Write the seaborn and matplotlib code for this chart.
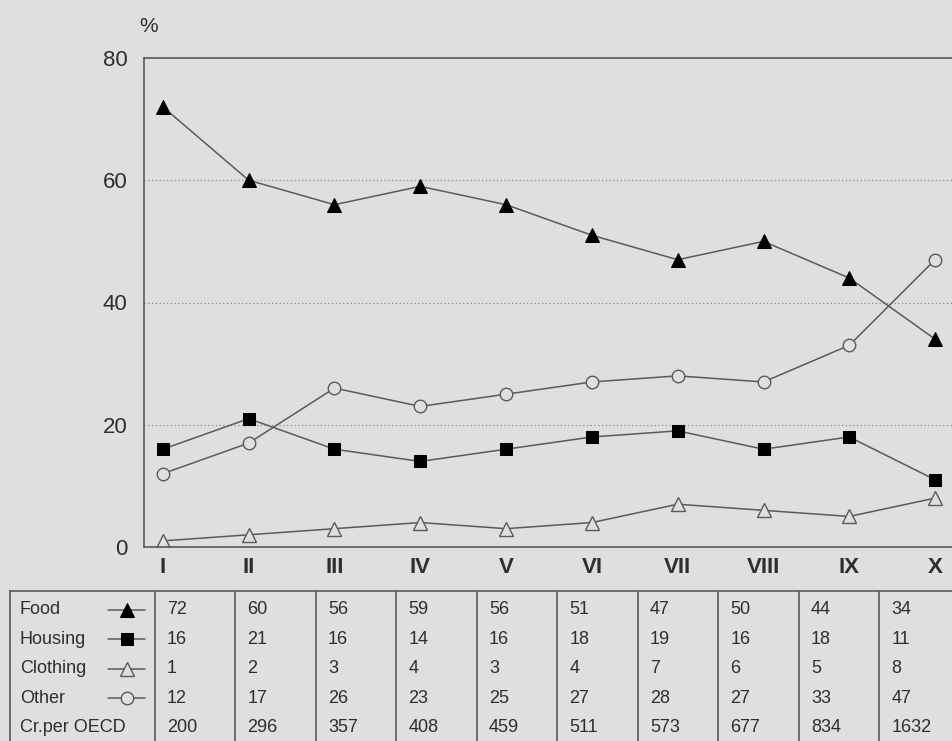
import numpy as np
import pandas as pd
import matplotlib
matplotlib.use("Agg")
import matplotlib.pyplot as plt
import seaborn as sns

groups = ["I", "II", "III", "IV", "V", "VI", "VII", "VIII", "IX", "X"]
food = [72, 60, 56, 59, 56, 51, 47, 50, 44, 34]
housing = [16, 21, 16, 14, 16, 18, 19, 16, 18, 11]
clothing = [1, 2, 3, 4, 3, 4, 7, 6, 5, 8]
other = [12, 17, 26, 23, 25, 27, 28, 27, 33, 47]
cr_per_oecd = [200, 296, 357, 408, 459, 511, 573, 677, 834, 1632]

series_names = ["Food", "Housing", "Clothing", "Other"]
series_values = [food, housing, clothing, other]
row_labels = series_names + ["Cr.per OECD"]

bg = "#dfdfdf"
ink = "#5a5a5a"
txt = "#2e2e2e"
marker_style = {
    "Food": dict(marker="^", markersize=10.5, markerfacecolor="black", markeredgecolor="black"),
    "Housing": dict(marker="s", markersize=8, markerfacecolor="black", markeredgecolor="black"),
    "Clothing": dict(marker="^", markersize=10.5, markerfacecolor=bg, markeredgecolor=ink, markeredgewidth=1.0),
    "Other": dict(marker="o", markersize=9, markerfacecolor=bg, markeredgecolor=ink, markeredgewidth=1.0),
}

df = pd.DataFrame({"group": groups, **dict(zip(series_names, series_values))})
df["pos"] = np.arange(len(groups))

sns.set_style("white")
plt.rcParams["font.family"] = ["Liberation Sans", "DejaVu Sans"]

fig = plt.figure(figsize=(9.53, 7.41), dpi=100, facecolor=bg)

# ---- line chart ----
ax = fig.add_axes([144 / 953, 1 - 547 / 741, 816 / 953, 489 / 741])
ax.set_facecolor(bg)
for name in series_names:
    sns.lineplot(data=df, x="pos", y=name, ax=ax, color=ink, linewidth=1.1,
                 **marker_style[name])
ax.set_xlim(-0.22, 9.29)
ax.set_ylim(0, 80)
for g in [20, 40, 60]:
    ax.axhline(g, color="#888888", linestyle=(0, (1, 2)), linewidth=0.9, zorder=0)
ax.set_xticks(df["pos"])
ax.set_xticklabels(groups, fontsize=16, fontweight="bold", color=txt)
ax.set_yticks([0, 20, 40, 60, 80])
ax.set_yticklabels(["0", "20", "40", "60", "80"], fontsize=16, color=txt)
ax.tick_params(axis="x", direction="in", length=12, width=1, color=ink, pad=7)
ax.tick_params(axis="y", direction="in", length=13, width=1, color=ink, pad=12)
ax.set_xlabel("")
ax.set_ylabel("")
for s in ax.spines.values():
    s.set_color(ink)
    s.set_linewidth(1.2)
fig.text(139 / 953, 1 - 26 / 741, "%", fontsize=15, color=txt, va="center")

# ---- table below ----
tax = fig.add_axes([10 / 953, 1 - 747 / 741, 950 / 953, 156 / 741])
tax.set_facecolor(bg)
tax.set_xlim(-1.8, 10)
tax.set_ylim(5.29, 0)
tax.set_xticks([])
tax.set_yticks([])
for s in tax.spines.values():
    s.set_color(ink)
    s.set_linewidth(1.2)
for j in range(10):
    tax.axvline(j, color=ink, linewidth=1.2)

for i, lab in enumerate(row_labels):
    yy = i + 0.64
    tax.text(-1.68, yy, lab, fontsize=13, color=txt, va="center", ha="left")
    if lab in marker_style:
        sns.lineplot(x=[-0.58, -0.35, -0.12], y=[yy, yy, yy], ax=tax, color=ink,
                     linewidth=1.1, markevery=[1], **marker_style[lab])

table_rows = series_values + [cr_per_oecd]
for i, vals in enumerate(table_rows):
    for j, v in enumerate(vals):
        tax.text(j + 0.15, i + 0.64, str(v), fontsize=13, color=txt,
                 va="center", ha="left")

fig.savefig("out.png", dpi=100, facecolor=bg)
